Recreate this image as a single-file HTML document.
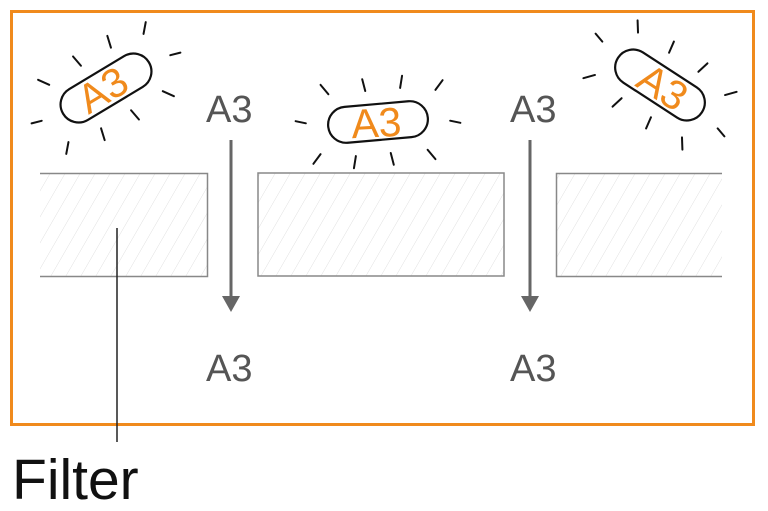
<!DOCTYPE html>
<html><head><meta charset="utf-8"><style>
html,body{margin:0;padding:0;background:#fff;width:768px;height:511px;overflow:hidden}
svg{display:block}
</style></head><body>
<svg width="768" height="511" viewBox="0 0 768 511" xmlns="http://www.w3.org/2000/svg">
<defs>
<pattern id="h" patternUnits="userSpaceOnUse" width="15" height="26" patternTransform="skewX(-30)">
<line x1="0" y1="0" x2="0" y2="26" stroke="#ddd" stroke-width="1"/>
</pattern>
<g id="bac">
<rect x="-50" y="-18" width="100" height="36" rx="18" fill="#fff" stroke="#111" stroke-width="2.2"/>
</g>
<g id="rays">
<line x1="-72" y1="-5" x2="-82" y2="-8"/><line x1="-47" y1="-32" x2="-54" y2="-42"/>
<line x1="-10" y1="-32" x2="-12" y2="-44"/><line x1="25" y1="-32" x2="28" y2="-44"/>
<line x1="60" y1="-27" x2="68" y2="-36"/><line x1="72" y1="5" x2="82" y2="8"/>
<line x1="47" y1="32" x2="54" y2="42"/><line x1="10" y1="32" x2="12" y2="44"/>
<line x1="-25" y1="32" x2="-28" y2="44"/><line x1="-60" y1="27" x2="-68" y2="36"/>
</g>
</defs>
<rect x="11.5" y="11.5" width="742" height="413" fill="none" stroke="#f08a1c" stroke-width="3"/>
<rect x="40" y="173" width="167" height="103" fill="url(#h)"/>
<path d="M40 173.5H207.5V276.5H40" fill="none" stroke="#888" stroke-width="1.5"/>
<rect x="258" y="173" width="246" height="103" fill="url(#h)" stroke="#888" stroke-width="1.5"/>
<rect x="556" y="173" width="166" height="103" fill="url(#h)"/>
<path d="M722 173.5H556.5V276.5H722" fill="none" stroke="#888" stroke-width="1.5"/>
<g fill="#666" stroke="#666">
<line x1="231" y1="140" x2="231" y2="298" stroke-width="3"/>
<polygon points="222,296 240,296 231,312" stroke="none"/>
<line x1="530" y1="140" x2="530" y2="298" stroke-width="3"/>
<polygon points="521,296 539,296 530,312" stroke="none"/>
</g>
<g font-family="Liberation Sans, sans-serif" font-size="38" fill="#555">
<text x="206" y="122">A3</text>
<text x="510" y="122">A3</text>
<text x="206" y="381">A3</text>
<text x="510" y="381">A3</text>
</g>
<line x1="117" y1="228" x2="117" y2="442" stroke="#222" stroke-width="1.5"/>
<text x="12" y="499" font-family="Liberation Sans, sans-serif" font-size="57" fill="#111">Filter</text>
<g stroke="#111" stroke-width="2" stroke-linecap="round">
<g transform="translate(106,88) rotate(-31)"><use href="#bac"/><use href="#rays"/></g>
<g transform="translate(378,122) rotate(-5)"><use href="#bac"/><use href="#rays"/></g>
<g transform="translate(660,85) rotate(33)"><use href="#bac"/><use href="#rays"/></g>
</g>
<g font-family="Liberation Sans, sans-serif" font-size="41" fill="#f08a1c" text-anchor="middle">
<text transform="translate(110,102) rotate(-31)">A3</text>
<text transform="translate(377,137) rotate(-3)">A3</text>
<text transform="translate(655,99) rotate(33)">A3</text>
</g>
</svg>
</body></html>
